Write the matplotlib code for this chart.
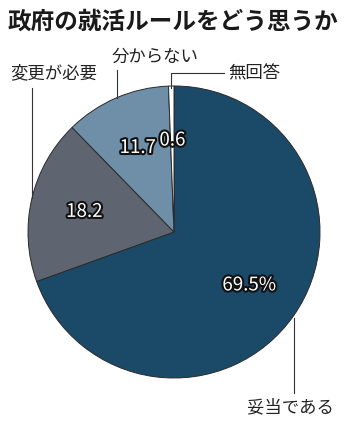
import numpy as np
import matplotlib.pyplot as plt
import matplotlib.patheffects as pe

plt.rcParams['font.family'] = ['Noto Sans CJK JP', 'DejaVu Sans']

title = '政府の就活ルールをどう思うか'
categories = ['妥当である', '変更が必要', '分からない', '無回答']
values = [69.5, 18.2, 11.7, 0.6]
value_labels = ['69.5%', '18.2', '11.7', '0.6']
colors = ['#1b4a69', '#5f6570', '#6f8ea8', '#ffffff']

W, H = 350, 442
fig = plt.figure(figsize=(W / 100, H / 100), dpi=100)
ax = fig.add_axes([0, 0, 1, 1])
ax.set_xlim(0, W)
ax.set_ylim(0, H)
ax.set_aspect('equal')
ax.axis('off')

def Y(y):
    # pixel row from top -> data y
    return H - y

cx, cy, R = 174, 232, 146
wedges, _ = ax.pie(values, startangle=90, counterclock=False,
                   center=(cx, Y(cy)), radius=R, colors=colors,
                   wedgeprops=dict(edgecolor='#2a2a2a', linewidth=0.7))
ax.set_xlim(0, W)
ax.set_ylim(0, H)

outline = [pe.withStroke(linewidth=3, foreground='#111111')]
for w, lab in zip(wedges, value_labels):
    mid = np.deg2rad((w.theta1 + w.theta2) / 2)
    r = 0.63 * R
    ax.text(cx + r * np.cos(mid), Y(cy) + r * np.sin(mid), lab,
            ha='center', va='center', fontsize=13.5, color='white',
            path_effects=outline)

ax.text(W / 2 - 2, Y(22), title, ha='center', va='center', fontsize=17,
        fontweight='bold', color='#1a1a1a')

lc = '#333333'
# 変更が必要
ax.plot([32, 32], [Y(88), Y(198)], color=lc, lw=0.8)
ax.text(10, Y(73), categories[1], ha='left', va='center', fontsize=12.5, color='#222222')
# 分からない
ax.plot([117, 117], [Y(70), Y(98)], color=lc, lw=0.8)
ax.text(112, Y(57), categories[2], ha='left', va='center', fontsize=12.5, color='#222222')
# 無回答
ax.plot([171, 171, 224], [Y(88), Y(73), Y(73)], color=lc, lw=0.8)
ax.text(228, Y(73), categories[3], ha='left', va='center', fontsize=12.5, color='#222222')
# 妥当である
ax.plot([294, 294], [Y(318), Y(393)], color=lc, lw=0.8)
ax.text(247, Y(407), categories[0], ha='left', va='center', fontsize=12.5, color='#222222')

fig.savefig('out.png', dpi=100)
